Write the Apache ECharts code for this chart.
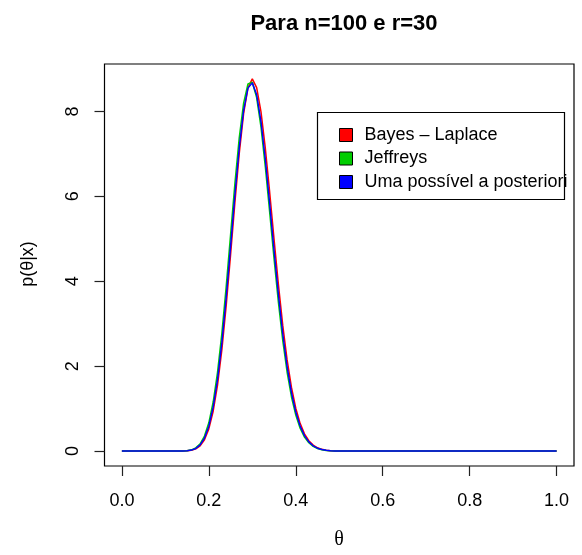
<!DOCTYPE html>
<html>
<head>
<meta charset="utf-8">
<script src="https://cdn.jsdelivr.net/npm/echarts@6/dist/echarts.min.js"></script>
<style>html,body{margin:0;padding:0;background:#fff}#c{width:582px;height:555px}</style>
</head>
<body>
<div id="c"></div>
<script>
// ---- data ----
var titleText = 'Para n=100 e r=30';
var seriesNames = ['Bayes \u2013 Laplace', 'Jeffreys', 'Uma poss\u00edvel a posteriori'];
var seriesColors = ['#FF0000', '#00CD00', '#0000FF'];
var xTicks = [0, 0.2, 0.4, 0.6, 0.8, 1.0];
var yTicks = [0, 2, 4, 6, 8];

var theta = [
  0.00,0.01,0.02,0.03,0.04,0.05,0.06,0.07,0.08,0.09,
  0.10,0.11,0.12,0.13,0.14,0.15,0.16,0.17,0.18,0.19,
  0.20,0.21,0.22,0.23,0.24,0.25,0.26,0.27,0.28,0.29,
  0.30,0.31,0.32,0.33,0.34,0.35,0.36,0.37,0.38,0.39,
  0.40,0.41,0.42,0.43,0.44,0.45,0.46,0.47,0.48,0.49,
  0.50,0.51,0.52,0.53,0.54,0.55,0.56,0.57,0.58,0.59,
  0.60,0.61,0.62,0.63,0.64,0.65,0.66,0.67,0.68,0.69,
  0.70,0.71,0.72,0.73,0.74,0.75,0.76,0.77,0.78,0.79,
  0.80,0.81,0.82,0.83,0.84,0.85,0.86,0.87,0.88,0.89,
  0.90,0.91,0.92,0.93,0.94,0.95,0.96,0.97,0.98,0.99,
  1.00
];

var bayesLaplace = [
  0,0,0,0,0,0,0,0,0,0,
  0,0,0.0001,0.0005,0.0019,0.0065,0.0197,0.0526,0.1251,0.2685,
  0.524,0.939,1.554,2.390,3.432,4.621,5.857,7.010,7.948,8.556,
  8.765,8.561,7.987,7.127,6.091,4.991,3.926,2.966,2.153,1.504,
  1.011,0.654,0.407,0.244,0.141,0.0783,0.0419,0.0216,0.0107,0.0051,
  0.0023,0.0010,0.0004,0,0,0,0,0,0,0,
  0,0,0,0,0,0,0,0,0,0,
  0,0,0,0,0,0,0,0,0,0,
  0,0,0,0,0,0,0,0,0,0,
  0,0,0,0,0,0,0,0,0,0,
  0
];

var jeffreys = [
  0,0,0,0,0,0,0,0,0,0,
  0,0,0.0002,0.0008,0.0032,0.0103,0.0297,0.0754,0.1717,0.3539,
  0.667,1.156,1.856,2.774,3.879,5.094,6.307,7.383,8.195,8.645,
  8.685,8.326,7.628,6.689,5.620,4.530,3.505,2.606,1.863,1.281,
  0.848,0.540,0.331,0.196,0.111,0.0609,0.0321,0.0163,0.0080,0.0037,
  0.0017,0.0007,0.0003,0,0,0,0,0,0,0,
  0,0,0,0,0,0,0,0,0,0,
  0,0,0,0,0,0,0,0,0,0,
  0,0,0,0,0,0,0,0,0,0,
  0,0,0,0,0,0,0,0,0,0,
  0
];

var umaPossivel = [
  0,0,0,0,0,0,0,0,0,0,
  0,0,0.0001,0.0006,0.0024,0.0082,0.0241,0.0626,0.1456,0.3063,
  0.588,1.036,1.688,2.559,3.626,4.822,6.040,7.150,8.021,8.547,
  8.671,8.391,7.757,6.862,5.815,4.726,3.687,2.763,1.991,1.380,
  0.920,0.591,0.365,0.217,0.125,0.0687,0.0365,0.0186,0.0092,0.0043,
  0.0020,0.0009,0.0004,0,0,0,0,0,0,0,
  0,0,0,0,0,0,0,0,0,0,
  0,0,0,0,0,0,0,0,0,0,
  0,0,0,0,0,0,0,0,0,0,
  0,0,0,0,0,0,0,0,0,0,
  0
];

// ---- chart ----
var FONT = '"Liberation Sans", Arial, Helvetica, sans-serif';
function pairs(vals) { return theta.map(function (t, i) { return [t, vals[i]]; }); }
var allVals = [bayesLaplace, jeffreys, umaPossivel];

var chart = echarts.init(document.getElementById('c'), null, { renderer: 'canvas' });
var option = {
  animation: false,
  backgroundColor: '#ffffff',
  textStyle: { fontFamily: FONT },
  title: {
    text: titleText,
    left: 339, top: 8, textAlign: 'center',
    textStyle: { fontFamily: FONT, fontSize: 22, fontWeight: 'bold', color: '#000' }
  },
  grid: {
    left: 104.5, right: 8, top: 64, bottom: 89,
    show: true, borderColor: '#000', borderWidth: 1.2, backgroundColor: 'transparent'
  },
  xAxis: {
    type: 'value', min: -0.04, max: 1.04,
    axisLine: { show: false, onZero: false },
    splitLine: { show: false },
    axisTick: { show: true, inside: false, length: 10, customValues: xTicks,
      lineStyle: { color: '#222', width: 1.2 } },
    axisLabel: { show: true, customValues: xTicks, margin: 26,
      formatter: function (v) { return v.toFixed(1); },
      fontFamily: FONT, fontSize: 18, color: '#000' }
  },
  yAxis: {
    type: 'value', min: -0.3506, max: 9.1156,
    axisLine: { show: false, onZero: false },
    splitLine: { show: false },
    axisTick: { show: true, inside: false, length: 10, customValues: yTicks,
      lineStyle: { color: '#222', width: 1.2 } },
    axisLabel: { show: true, customValues: yTicks, margin: 22, rotate: 90,
      formatter: function (v) { return String(v); },
      fontFamily: FONT, fontSize: 18, color: '#000' }
  },
  legend: {
    orient: 'vertical', left: 334, top: 121,
    itemWidth: 13, itemHeight: 13, itemGap: 5.5,
    icon: 'rect',
    itemStyle: { borderColor: '#000', borderWidth: 1 },
    textStyle: { fontFamily: FONT, fontSize: 18, color: '#000', padding: [0, 0, 0, 7] },
    data: seriesNames,
    selectedMode: false
  },
  graphic: [
    { type: 'rect', shape: { x: 317.5, y: 112.5, width: 247, height: 87 },
      style: { fill: 'none', stroke: '#000', lineWidth: 1.2 }, z: 10 },
    { type: 'text', x: 28, y: 264, rotation: Math.PI / 2,
      style: { text: 'p(\u03b8|x)', font: '18px ' + FONT, fill: '#000', align: 'center', verticalAlign: 'middle' } },
    { type: 'text', x: 339, y: 540,
      style: { text: '\u03b8', font: '20px "Liberation Serif", "DejaVu Serif", serif', fill: '#000', align: 'center', verticalAlign: 'middle' } }
  ],
  series: seriesNames.map(function (name, k) {
    return {
      name: name, type: 'line', data: pairs(allVals[k]),
      showSymbol: false, symbol: 'none', smooth: false,
      color: seriesColors[k],
      itemStyle: { color: seriesColors[k] },
      lineStyle: { color: seriesColors[k], width: 1.5 },
      z: 2 + k
    };
  })
};
chart.setOption(option);
</script>
</body>
</html>
